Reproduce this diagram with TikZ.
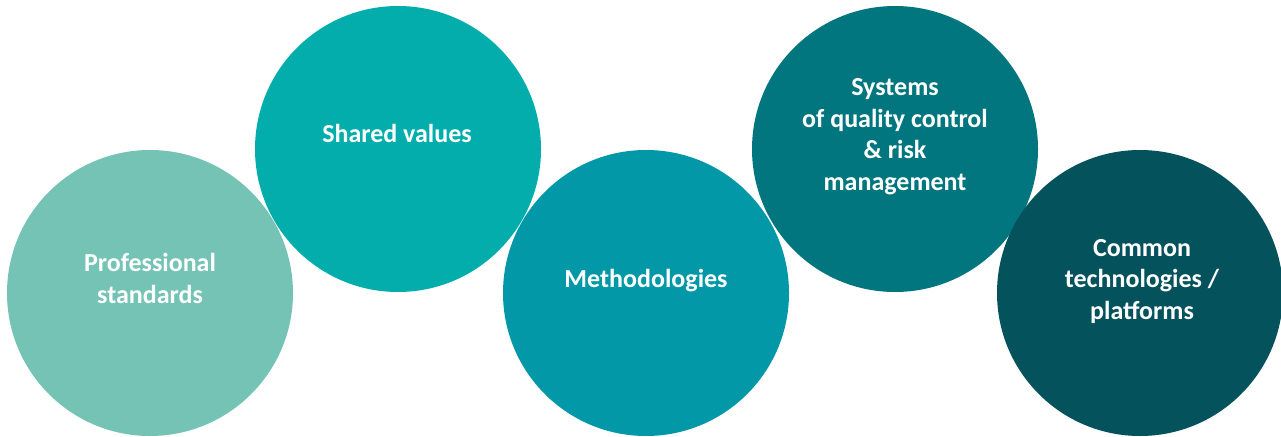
\documentclass[tikz,border=0pt]{standalone}
\usepackage{fontspec}
\setmainfont{Carlito}
\definecolor{cA}{HTML}{74C3B5}
\definecolor{cB}{HTML}{03ADAB}
\definecolor{cC}{HTML}{0398A8}
\definecolor{cD}{HTML}{02767E}
\definecolor{cE}{HTML}{04525C}
\begin{document}
\begin{tikzpicture}[x=1pt,y=-1pt,
  disc/.style={circle,draw=none,minimum size=286pt,inner sep=0pt},
  lbl/.style={anchor=base,align=center,text=white,inner sep=0pt,
    font=\fontsize{26}{31.5}\selectfont\bfseries}]
\useasboundingbox (0,0) rectangle (1281,436);
\node[disc,fill=cA] (c1) at (150,293) {};
\node[disc,fill=cB] (c2) at (398,149) {};
\node[disc,fill=cC] (c3) at (646,293) {};
\node[disc,fill=cD] (c4) at (895,149) {};
\node[disc,fill=cE] (c5) at (1140,293) {};
\node[lbl] (t1) at (150,303) {Professional\\standards};
\node[lbl] (t2) at (397,142) {Shared values};
\node[lbl] (t3) at (646,287) {Methodologies};
\node[lbl] (t4) at (895,190) {Systems\\of quality control\\\& risk\\management};
\node[lbl] (t5) at (1142,319) {Common\\technologies /\\platforms};
\end{tikzpicture}
\end{document}
